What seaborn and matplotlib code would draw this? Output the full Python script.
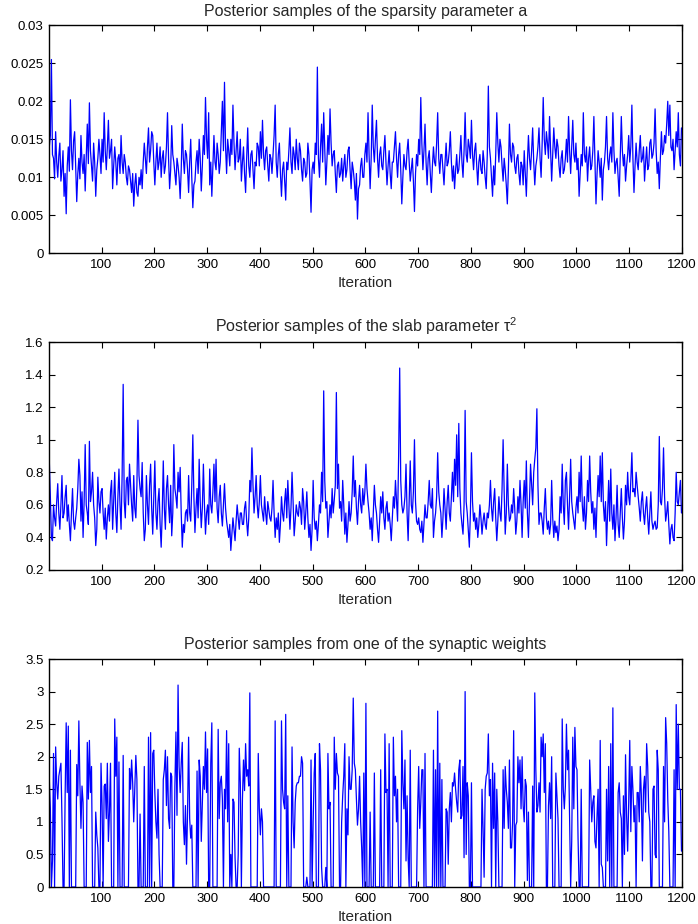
import numpy as np
import pandas as pd
import matplotlib
matplotlib.use("Agg")
import matplotlib.pyplot as plt
import seaborn as sns

# ---------------- data (every 2nd iteration) ----------------
sparsity_a = [
    0.0140, 0.0155, 0.0255, 0.0130, 0.0125, 0.0098, 0.0160, 0.0120, 0.0100, 0.0128, 0.0145, 0.0095, 0.0110, 0.0135, 0.0075, 0.0105, 0.0052, 0.0115, 0.0140, 0.0108, 0.0202, 0.0135, 0.0110, 0.0148, 0.0160,
    0.0115, 0.0068, 0.0105, 0.0125, 0.0098, 0.0155, 0.0120, 0.0105, 0.0130, 0.0082, 0.0125, 0.0170, 0.0118, 0.0198, 0.0135, 0.0115, 0.0095, 0.0145, 0.0120, 0.0075, 0.0110, 0.0125, 0.0150, 0.0130, 0.0105,
    0.0150, 0.0120, 0.0185, 0.0135, 0.0110, 0.0140, 0.0175, 0.0125, 0.0135, 0.0150, 0.0085, 0.0115, 0.0140, 0.0120, 0.0090, 0.0125, 0.0130, 0.0105, 0.0155, 0.0120, 0.0105, 0.0130, 0.0120, 0.0100, 0.0090,
    0.0115, 0.0110, 0.0095, 0.0080, 0.0105, 0.0062, 0.0090, 0.0105, 0.0080, 0.0075, 0.0100, 0.0090, 0.0110, 0.0085, 0.0120, 0.0145, 0.0125, 0.0105, 0.0140, 0.0165, 0.0120, 0.0135, 0.0160, 0.0155, 0.0120,
    0.0090, 0.0120, 0.0145, 0.0110, 0.0120, 0.0140, 0.0100, 0.0125, 0.0135, 0.0105, 0.0115, 0.0140, 0.0185, 0.0125, 0.0085, 0.0110, 0.0168, 0.0130, 0.0120, 0.0105, 0.0090, 0.0125, 0.0115, 0.0100, 0.0072,
    0.0110, 0.0170, 0.0125, 0.0105, 0.0135, 0.0130, 0.0110, 0.0080, 0.0120, 0.0150, 0.0100, 0.0060, 0.0090, 0.0095, 0.0120, 0.0135, 0.0105, 0.0150, 0.0125, 0.0082, 0.0115, 0.0155, 0.0130, 0.0205, 0.0150,
    0.0125, 0.0185, 0.0090, 0.0120, 0.0075, 0.0115, 0.0155, 0.0120, 0.0110, 0.0145, 0.0130, 0.0105, 0.0120, 0.0160, 0.0200, 0.0135, 0.0225, 0.0140, 0.0105, 0.0150, 0.0135, 0.0115, 0.0150, 0.0130, 0.0195,
    0.0145, 0.0110, 0.0135, 0.0160, 0.0120, 0.0125, 0.0150, 0.0095, 0.0120, 0.0140, 0.0105, 0.0080, 0.0125, 0.0165, 0.0115, 0.0100, 0.0130, 0.0135, 0.0110, 0.0085, 0.0120, 0.0115, 0.0145, 0.0140, 0.0115,
    0.0160, 0.0125, 0.0175, 0.0130, 0.0110, 0.0135, 0.0140, 0.0115, 0.0095, 0.0130, 0.0125, 0.0105, 0.0130, 0.0155, 0.0195, 0.0120, 0.0100, 0.0130, 0.0145, 0.0105, 0.0075, 0.0110, 0.0120, 0.0095, 0.0070,
    0.0120, 0.0110, 0.0135, 0.0165, 0.0120, 0.0105, 0.0140, 0.0130, 0.0110, 0.0150, 0.0125, 0.0110, 0.0145, 0.0135, 0.0110, 0.0095, 0.0125, 0.0120, 0.0100, 0.0105, 0.0145, 0.0130, 0.0095, 0.0054, 0.0110,
    0.0120, 0.0105, 0.0145, 0.0130, 0.0245, 0.0125, 0.0100, 0.0140, 0.0170, 0.0120, 0.0185, 0.0135, 0.0090, 0.0120, 0.0155, 0.0130, 0.0190, 0.0145, 0.0115, 0.0130, 0.0135, 0.0105, 0.0080, 0.0115, 0.0120,
    0.0100, 0.0105, 0.0125, 0.0095, 0.0115, 0.0130, 0.0100, 0.0110, 0.0135, 0.0140, 0.0110, 0.0085, 0.0120, 0.0110, 0.0095, 0.0070, 0.0105, 0.0045, 0.0085, 0.0090, 0.0115, 0.0125, 0.0100, 0.0100, 0.0130,
    0.0145, 0.0120, 0.0185, 0.0130, 0.0085, 0.0125, 0.0195, 0.0140, 0.0120, 0.0150, 0.0175, 0.0125, 0.0100, 0.0130, 0.0140, 0.0115, 0.0110, 0.0135, 0.0155, 0.0120, 0.0090, 0.0115, 0.0135, 0.0105, 0.0085,
    0.0120, 0.0120, 0.0140, 0.0160, 0.0125, 0.0100, 0.0130, 0.0145, 0.0110, 0.0065, 0.0100, 0.0130, 0.0115, 0.0110, 0.0135, 0.0150, 0.0120, 0.0095, 0.0110, 0.0125, 0.0095, 0.0055, 0.0105, 0.0130, 0.0115,
    0.0150, 0.0130, 0.0205, 0.0145, 0.0110, 0.0135, 0.0170, 0.0120, 0.0090, 0.0125, 0.0135, 0.0105, 0.0080, 0.0115, 0.0140, 0.0120, 0.0115, 0.0145, 0.0185, 0.0125, 0.0105, 0.0130, 0.0130, 0.0110, 0.0090,
    0.0120, 0.0145, 0.0115, 0.0120, 0.0135, 0.0160, 0.0120, 0.0095, 0.0115, 0.0085, 0.0110, 0.0130, 0.0105, 0.0110, 0.0130, 0.0155, 0.0120, 0.0100, 0.0135, 0.0185, 0.0130, 0.0120, 0.0150, 0.0140, 0.0125,
    0.0175, 0.0130, 0.0110, 0.0135, 0.0145, 0.0115, 0.0090, 0.0120, 0.0130, 0.0110, 0.0105, 0.0135, 0.0120, 0.0100, 0.0085, 0.0130, 0.0220, 0.0140, 0.0125, 0.0100, 0.0075, 0.0115, 0.0090, 0.0130, 0.0185,
    0.0145, 0.0120, 0.0150, 0.0140, 0.0115, 0.0095, 0.0125, 0.0110, 0.0090, 0.0065, 0.0110, 0.0170, 0.0130, 0.0120, 0.0145, 0.0140, 0.0115, 0.0105, 0.0125, 0.0130, 0.0105, 0.0090, 0.0120, 0.0115, 0.0090,
    0.0135, 0.0105, 0.0075, 0.0120, 0.0155, 0.0125, 0.0110, 0.0135, 0.0165, 0.0120, 0.0090, 0.0115, 0.0125, 0.0140, 0.0165, 0.0125, 0.0100, 0.0145, 0.0205, 0.0150, 0.0130, 0.0160, 0.0145, 0.0125, 0.0180,
    0.0135, 0.0095, 0.0130, 0.0165, 0.0140, 0.0125, 0.0150, 0.0140, 0.0115, 0.0100, 0.0125, 0.0135, 0.0105, 0.0110, 0.0125, 0.0150, 0.0120, 0.0180, 0.0135, 0.0105, 0.0140, 0.0175, 0.0130, 0.0120, 0.0145,
    0.0110, 0.0125, 0.0075, 0.0105, 0.0130, 0.0115, 0.0185, 0.0130, 0.0120, 0.0140, 0.0095, 0.0125, 0.0140, 0.0110, 0.0115, 0.0135, 0.0180, 0.0120, 0.0065, 0.0105, 0.0135, 0.0120, 0.0100, 0.0125, 0.0070,
    0.0110, 0.0120, 0.0140, 0.0180, 0.0125, 0.0110, 0.0130, 0.0140, 0.0120, 0.0185, 0.0135, 0.0105, 0.0120, 0.0125, 0.0100, 0.0075, 0.0125, 0.0180, 0.0135, 0.0115, 0.0130, 0.0095, 0.0115, 0.0130, 0.0155,
    0.0120, 0.0140, 0.0195, 0.0125, 0.0080, 0.0115, 0.0145, 0.0120, 0.0110, 0.0135, 0.0155, 0.0120, 0.0125, 0.0140, 0.0095, 0.0120, 0.0140, 0.0110, 0.0115, 0.0145, 0.0150, 0.0125, 0.0130, 0.0145, 0.0190,
    0.0135, 0.0105, 0.0120, 0.0085, 0.0125, 0.0160, 0.0130, 0.0135, 0.0155, 0.0145, 0.0170, 0.0200, 0.0155, 0.0195, 0.0140, 0.0135, 0.0150, 0.0110, 0.0135, 0.0160, 0.0140, 0.0185, 0.0130, 0.0115, 0.0165,
]

slab_tau2 = [
    0.87, 0.65, 0.40, 0.38, 0.60, 0.52, 0.47, 0.62, 0.73, 0.55, 0.45, 0.60, 0.78, 0.52, 0.55, 0.65, 0.72, 0.50, 0.60, 0.48, 0.38, 0.55, 0.70, 0.50, 0.45,
    0.52, 0.58, 0.70, 0.88, 0.78, 0.50, 0.68, 0.40, 0.62, 0.97, 0.60, 0.55, 0.48, 0.99, 0.62, 0.68, 0.80, 0.60, 0.52, 0.35, 0.45, 0.77, 0.62, 0.55, 0.68,
    0.70, 0.55, 0.45, 0.58, 0.39, 0.52, 0.60, 0.50, 0.68, 0.75, 0.45, 0.62, 0.80, 0.55, 0.43, 0.65, 0.82, 0.60, 0.45, 0.78, 1.34, 0.62, 0.52, 0.75, 0.77,
    0.60, 0.85, 0.72, 0.60, 0.50, 0.78, 0.58, 0.52, 0.72, 1.12, 0.78, 0.70, 0.65, 0.86, 0.55, 0.38, 0.45, 0.78, 0.60, 0.48, 0.72, 0.85, 0.58, 0.42, 0.65,
    0.87, 0.55, 0.45, 0.62, 0.70, 0.48, 0.34, 0.55, 0.87, 0.58, 0.45, 0.70, 0.78, 0.60, 0.49, 0.72, 0.41, 0.55, 0.97, 0.70, 0.65, 0.58, 0.80, 0.68, 0.83,
    0.55, 0.34, 0.48, 0.43, 0.55, 0.57, 0.50, 0.78, 0.55, 0.50, 0.72, 1.03, 0.65, 0.43, 0.58, 0.70, 0.52, 0.88, 0.62, 0.46, 0.58, 0.85, 0.60, 0.42, 0.55,
    0.60, 0.48, 0.82, 0.60, 0.55, 0.68, 0.85, 0.62, 0.88, 0.58, 0.49, 0.65, 0.72, 0.55, 0.47, 0.60, 0.73, 0.58, 0.50, 0.45, 0.40, 0.48, 0.32, 0.42, 0.52,
    0.45, 0.38, 0.50, 0.60, 0.52, 0.45, 0.55, 0.55, 0.48, 0.48, 0.58, 0.62, 0.50, 0.41, 0.52, 0.75, 0.68, 0.95, 0.72, 0.55, 0.65, 0.78, 0.60, 0.52, 0.62,
    0.78, 0.60, 0.55, 0.50, 0.65, 0.55, 0.48, 0.62, 0.57, 0.52, 0.50, 0.58, 0.75, 0.55, 0.40, 0.52, 0.45, 0.55, 0.37, 0.48, 0.65, 0.55, 0.50, 0.62, 0.70,
    0.52, 0.75, 0.60, 0.45, 0.58, 0.80, 0.62, 0.41, 0.50, 0.60, 0.55, 0.53, 0.62, 0.58, 0.48, 0.70, 0.62, 0.45, 0.55, 0.68, 0.52, 0.40, 0.48, 0.32, 0.45,
    0.75, 0.52, 0.45, 0.50, 0.38, 0.48, 0.60, 0.55, 0.80, 0.62, 1.30, 0.75, 0.58, 0.62, 0.40, 0.50, 0.60, 0.52, 0.70, 0.55, 0.63, 0.72, 1.29, 0.70, 0.85,
    0.58, 0.62, 0.50, 0.75, 0.60, 0.42, 0.55, 0.37, 0.48, 0.62, 0.50, 0.55, 0.68, 0.90, 0.65, 0.75, 0.58, 0.48, 0.62, 0.72, 0.60, 0.55, 0.70, 0.60, 0.68,
    0.85, 0.70, 0.62, 0.55, 0.45, 0.52, 0.38, 0.55, 0.72, 0.60, 0.55, 0.45, 0.37, 0.50, 0.65, 0.55, 0.68, 0.52, 0.45, 0.58, 0.62, 0.50, 0.55, 0.48, 0.38,
    0.52, 0.65, 0.58, 0.75, 0.62, 0.50, 0.90, 1.44, 0.75, 0.60, 0.55, 0.58, 0.65, 0.85, 0.55, 0.38, 0.62, 0.87, 0.60, 0.55, 0.68, 1.00, 0.62, 0.50, 0.48,
    0.52, 0.45, 0.43, 0.50, 0.37, 0.48, 0.60, 0.52, 0.52, 0.62, 0.75, 0.60, 0.58, 0.70, 0.40, 0.50, 0.55, 0.65, 0.92, 0.68, 0.60, 0.55, 0.40, 0.52, 0.70,
    0.58, 0.45, 0.62, 0.72, 0.55, 0.50, 0.65, 0.80, 0.62, 0.88, 0.72, 1.03, 0.65, 1.10, 0.70, 0.55, 0.48, 0.42, 0.60, 1.18, 0.62, 0.55, 0.45, 0.34, 0.55,
    0.92, 0.62, 0.50, 0.55, 0.45, 0.52, 0.40, 0.48, 0.60, 0.52, 0.42, 0.50, 0.55, 0.48, 0.45, 0.55, 0.52, 0.60, 0.75, 0.58, 0.50, 0.62, 0.70, 0.52, 0.38,
    0.50, 0.65, 0.55, 0.50, 0.70, 1.00, 0.68, 0.42, 0.55, 0.85, 0.60, 0.50, 0.52, 0.60, 0.55, 0.70, 0.58, 0.42, 0.50, 0.65, 0.55, 0.75, 0.60, 0.40, 0.62,
    0.75, 0.58, 0.87, 0.55, 0.40, 0.62, 0.85, 0.72, 0.60, 0.80, 0.88, 0.95, 1.19, 0.72, 0.48, 0.55, 0.55, 0.50, 0.42, 0.58, 0.70, 0.52, 0.45, 0.50, 0.42,
    0.48, 0.75, 0.52, 0.40, 0.50, 0.43, 0.47, 0.38, 0.45, 0.65, 0.55, 0.85, 0.60, 0.48, 0.75, 0.80, 0.60, 0.45, 0.65, 0.88, 0.62, 0.55, 0.50, 0.45, 0.58,
    0.65, 0.55, 0.80, 0.62, 0.90, 0.60, 0.50, 0.65, 0.45, 0.55, 0.75, 0.62, 0.90, 0.68, 0.55, 0.62, 0.45, 0.58, 0.40, 0.62, 0.78, 0.65, 0.90, 0.62, 0.92,
    0.60, 0.50, 0.62, 0.35, 0.55, 0.75, 0.50, 0.82, 0.55, 0.45, 0.60, 0.38, 0.52, 0.72, 0.48, 0.40, 0.55, 0.70, 0.52, 0.39, 0.50, 0.72, 0.60, 0.80, 0.65,
    0.60, 0.75, 0.92, 0.68, 0.70, 0.65, 0.80, 0.72, 0.65, 0.58, 0.50, 0.62, 0.68, 0.55, 0.48, 0.58, 0.65, 0.52, 0.42, 0.55, 0.68, 0.50, 0.45, 0.48, 0.50,
    0.45, 0.46, 0.60, 1.02, 0.62, 0.60, 0.70, 0.95, 0.65, 0.50, 0.55, 0.62, 0.48, 0.36, 0.45, 0.48, 0.40, 0.38, 0.55, 0.80, 0.62, 0.60, 0.68, 0.75, 0.55,
]

synaptic_weight = [
    1.65, 1.20, 0.00, 0.40, 2.05, 0.00, 2.15, 1.60, 1.35, 1.70, 1.80, 1.90, 1.05, 0.00, 0.00, 1.40, 2.52, 1.45, 2.47, 0.00, 2.10, 0.00, 0.00, 0.00, 0.00,
    0.00, 1.88, 1.40, 2.55, 1.60, 0.90, 1.55, 1.30, 0.00, 0.00, 0.00, 2.22, 1.35, 2.25, 1.45, 1.85, 0.00, 0.00, 0.00, 1.15, 0.80, 0.60, 0.00, 0.00, 1.90,
    1.25, 0.00, 1.55, 1.58, 1.05, 1.90, 0.70, 1.15, 1.90, 0.00, 0.00, 0.00, 2.58, 1.70, 2.30, 0.00, 1.92, 0.00, 0.00, 0.00, 2.02, 0.00, 0.00, 0.00, 0.00,
    0.00, 1.82, 1.50, 1.95, 1.60, 1.00, 1.50, 2.02, 1.65, 0.00, 0.00, 1.12, 0.00, 0.00, 0.00, 1.85, 0.00, 0.00, 0.00, 2.30, 0.00, 2.37, 0.00, 2.05, 2.10,
    1.45, 1.00, 0.75, 1.50, 0.50, 0.00, 0.00, 0.00, 1.65, 1.80, 2.10, 1.25, 2.00, 1.05, 0.90, 1.75, 1.70, 0.00, 0.00, 1.55, 2.38, 1.10, 3.10, 1.85, 1.45,
    1.90, 2.22, 1.00, 0.65, 1.25, 0.35, 1.15, 2.30, 1.05, 0.75, 0.95, 0.00, 0.00, 0.00, 0.00, 1.78, 0.00, 1.95, 1.70, 0.70, 1.30, 1.85, 1.50, 2.38, 1.45,
    2.12, 0.00, 0.00, 1.90, 2.52, 0.00, 0.00, 0.00, 0.00, 0.00, 2.42, 1.05, 1.60, 1.70, 1.35, 0.00, 1.50, 1.20, 2.40, 1.00, 2.20, 0.00, 0.50, 0.00, 1.35,
    1.30, 0.45, 0.00, 0.00, 0.50, 2.13, 1.60, 0.00, 1.35, 1.95, 1.48, 2.20, 1.70, 1.80, 1.55, 2.98, 0.00, 0.00, 0.00, 0.00, 0.00, 0.00, 0.00, 2.05, 1.20,
    0.80, 1.20, 1.00, 0.00, 0.00, 0.00, 0.00, 0.00, 0.00, 0.00, 0.00, 0.00, 0.00, 0.00, 2.55, 0.00, 0.00, 0.00, 0.00, 0.00, 2.55, 1.50, 1.30, 1.20, 2.65,
    0.00, 1.40, 0.00, 0.00, 0.00, 2.15, 1.00, 0.60, 1.30, 1.55, 1.60, 1.60, 1.70, 1.70, 2.00, 1.90, 0.00, 0.00, 0.00, 0.15, 0.00, 0.00, 0.00, 1.95, 0.00,
    1.00, 1.75, 2.05, 0.00, 0.00, 0.00, 2.20, 1.80, 0.30, 0.00, 0.00, 0.00, 0.30, 0.00, 2.05, 1.20, 1.30, 0.00, 0.00, 0.00, 2.30, 1.50, 2.05, 1.75, 1.70,
    0.00, 0.00, 1.00, 1.40, 1.70, 2.20, 0.00, 1.20, 0.80, 2.00, 1.50, 1.50, 1.80, 2.90, 1.90, 1.80, 1.35, 0.95, 1.20, 1.70, 1.00, 0.60, 0.00, 1.75, 0.00,
    2.82, 0.00, 0.00, 0.00, 1.15, 0.00, 0.00, 0.00, 1.75, 0.00, 0.00, 0.00, 0.00, 0.00, 1.80, 0.00, 0.00, 0.00, 2.35, 1.45, 1.50, 0.00, 2.20, 0.00, 0.00,
    0.00, 2.30, 1.40, 1.70, 1.00, 1.50, 0.00, 0.00, 0.00, 2.40, 1.60, 1.20, 1.95, 0.40, 1.40, 0.45, 0.00, 2.10, 0.00, 0.00, 0.00, 0.00, 0.00, 0.00, 1.20,
    1.85, 0.90, 1.30, 1.80, 1.80, 0.00, 2.05, 0.00, 0.00, 0.00, 0.00, 0.00, 0.00, 0.00, 2.10, 0.00, 1.80, 0.00, 2.70, 0.00, 1.90, 0.00, 1.65, 0.00, 0.00,
    0.00, 1.20, 1.15, 0.35, 1.20, 1.45, 1.00, 1.60, 1.55, 1.75, 1.50, 1.30, 1.15, 1.80, 1.95, 1.05, 1.10, 1.85, 0.45, 3.00, 0.50, 1.60, 1.40, 0.00, 0.00,
    1.60, 0.00, 0.00, 0.00, 0.00, 0.00, 0.00, 0.00, 0.00, 0.00, 1.50, 0.90, 0.15, 1.50, 1.70, 1.75, 2.35, 1.40, 1.65, 0.00, 1.90, 0.90, 1.75, 0.00, 1.50,
    1.00, 0.00, 0.00, 0.00, 0.00, 1.80, 0.90, 1.85, 1.50, 1.30, 0.90, 1.95, 0.60, 0.60, 1.00, 2.40, 0.00, 0.95, 1.00, 2.00, 1.60, 1.95, 1.20, 2.00, 1.25,
    1.00, 1.65, 1.55, 0.10, 1.15, 0.00, 0.00, 0.00, 1.55, 0.00, 2.98, 1.80, 1.15, 1.25, 1.60, 1.15, 2.30, 2.00, 2.35, 1.45, 2.20, 0.00, 0.00, 1.25, 1.60,
    1.05, 2.00, 0.00, 0.00, 0.00, 1.75, 1.40, 1.05, 0.00, 0.00, 0.00, 2.58, 1.50, 1.20, 1.55, 2.50, 1.80, 2.10, 1.10, 0.00, 0.70, 2.30, 1.20, 2.45, 1.85,
    1.80, 0.75, 0.00, 0.00, 1.50, 0.00, 0.00, 0.00, 0.00, 0.00, 0.00, 0.00, 1.95, 1.50, 1.00, 1.30, 1.40, 0.70, 0.60, 1.10, 1.50, 0.00, 2.25, 0.35, 0.30,
    0.00, 0.00, 0.00, 1.50, 0.40, 1.85, 0.00, 2.20, 0.00, 2.75, 0.00, 0.00, 0.00, 0.00, 1.45, 1.60, 1.15, 1.05, 0.00, 1.40, 0.50, 2.03, 1.10, 0.55, 1.30,
    2.25, 0.85, 1.85, 1.50, 1.00, 1.25, 0.00, 1.45, 1.45, 1.00, 1.85, 1.40, 0.40, 1.50, 1.70, 1.15, 2.20, 1.85, 1.15, 1.00, 0.00, 0.00, 1.50, 1.55, 0.50,
    0.45, 2.10, 1.80, 0.00, 0.00, 0.00, 0.00, 1.85, 1.00, 2.60, 2.20, 1.35, 0.85, 0.00, 0.00, 0.00, 0.00, 1.80, 0.00, 2.80, 1.50, 2.50, 1.50, 1.50, 0.55,
]

titles = [
    "Posterior samples of the sparsity parameter a",
    "Posterior samples of the slab parameter $\\mathregular{\\tau^2}$",
    "Posterior samples from one of the synaptic weights",
]
xlabel = "Iteration"
xticks = list(range(100, 1300, 100))
yticks_list = [
    [0, 0.005, 0.01, 0.015, 0.02, 0.025, 0.03],
    [0.2, 0.4, 0.6, 0.8, 1.0, 1.2, 1.4, 1.6],
    [0, 0.5, 1, 1.5, 2, 2.5, 3, 3.5],
]
ytick_labels_list = [
    ["0", "0.005", "0.01", "0.015", "0.02", "0.025", "0.03"],
    ["0.2", "0.4", "0.6", "0.8", "1", "1.2", "1.4", "1.6"],
    ["0", "0.5", "1", "1.5", "2", "2.5", "3", "3.5"],
]

# ---------------- style ----------------
sns.set_style("ticks")
plt.rcParams["font.family"] = ["Liberation Sans", "DejaVu Sans"]
plt.rcParams["mathtext.fontset"] = "custom"
plt.rcParams["mathtext.rm"] = "Liberation Sans"
plt.rcParams["mathtext.it"] = "Liberation Sans:italic"

W, H = 698, 924
fig = plt.figure(figsize=(W / 100, H / 100), dpi=100)

left = 49.3 / W
width = (682.0 - 49.3) / W
panel_h = 228.0 / H
tops_px = [25.3, 342.0, 659.0]

series = [sparsity_a, slab_tau2, synaptic_weight]
for i, vals in enumerate(series):
    bottom = 1 - (tops_px[i] + 228.0) / H
    ax = fig.add_axes([left, bottom, width, panel_h])
    its = np.arange(1, 2 * len(vals), 2)  # sample taken every 2nd iteration
    df = pd.DataFrame({"iteration": its, "value": vals})
    sns.lineplot(data=df, x="iteration", y="value", ax=ax, color="#0000ff",
                 linewidth=0.9, estimator=None, sort=False)
    ax.set_xlim(1, 1200)
    ax.set_ylim(yticks_list[i][0], yticks_list[i][-1])
    ax.set_xticks(xticks)
    ax.set_xticklabels([str(t) for t in xticks])
    ax.set_yticks(yticks_list[i])
    ax.set_yticklabels(ytick_labels_list[i])
    ax.set_xlabel(xlabel, fontsize=11, labelpad=4)
    ax.set_ylabel("")
    ax.set_title(titles[i], fontsize=11.5, pad=7)
    for s in ax.spines.values():
        s.set_visible(True)
        s.set_linewidth(1.0)
        s.set_color("black")
    ax.tick_params(axis="both", direction="in", length=4, width=0.8,
                   labelsize=9.5, top=True, right=True, pad=4, colors="black")

fig.savefig("out.png", dpi=100)
